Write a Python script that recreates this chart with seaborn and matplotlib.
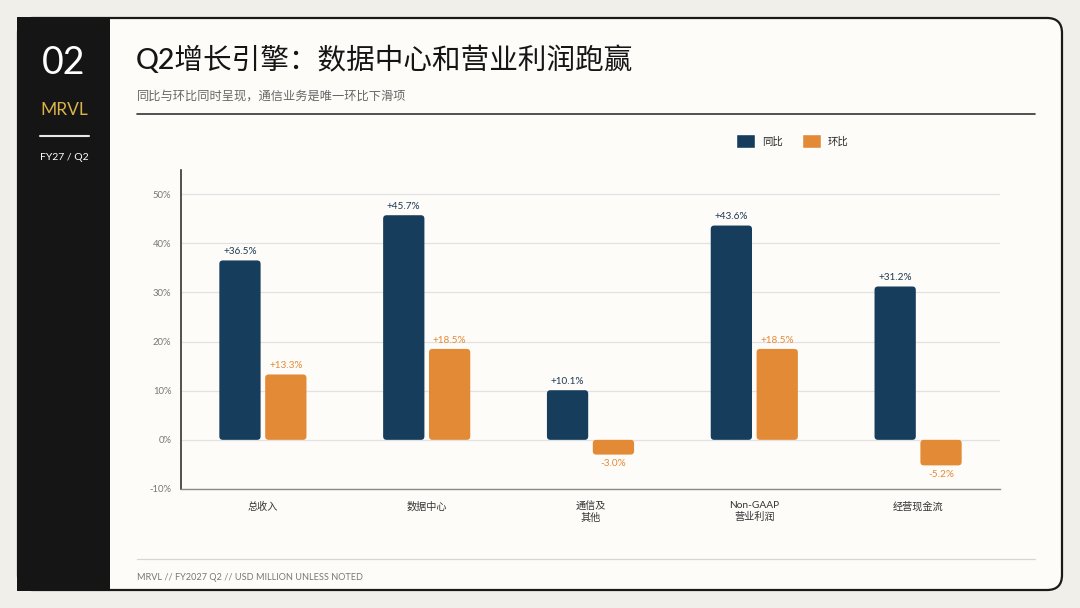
import numpy as np
import pandas as pd
import seaborn as sns
import matplotlib
matplotlib.use("Agg")
import matplotlib.pyplot as plt
from matplotlib.patches import FancyBboxPatch, Rectangle
from matplotlib.lines import Line2D

# data
categories = ["总收入", "数据中心", "通信及\n其他", "Non-GAAP\n营业利润", "经营现金流"]
yoy = [36.5, 45.7, 10.1, 43.6, 31.2]
qoq = [13.3, 18.5, -3.0, 18.5, -5.2]
series_names = ["同比", "环比"]
yticks = [-10, 0, 10, 20, 30, 40, 50]

NAVY = "#163d5c"
ORANGE = "#e38a36"
BG = "#f1efe9"
CARD = "#fdfcf9"

sns.set_theme(style="white")
plt.rcParams["font.family"] = ["Lato", "Noto Sans CJK SC", "DejaVu Sans"]

df = pd.DataFrame({
    "category": categories * 2,
    "metric": [series_names[0]] * len(categories) + [series_names[1]] * len(categories),
    "value": yoy + qoq,
})

W, H = 1080, 608
fig = plt.figure(figsize=(W / 100, H / 100), dpi=100)
fig.patch.set_facecolor(BG)

# background layer in pixel coords
bg = fig.add_axes([0, 0, 1, 1], zorder=-1)
bg.set_xlim(0, W)
bg.set_ylim(H, 0)
bg.axis("off")

bg.add_patch(FancyBboxPatch((18, 18), 1044, 572, boxstyle="round,pad=0,rounding_size=15",
                            facecolor=CARD, edgecolor="#1a1a1a", lw=1.6))
bg.add_patch(Rectangle((17.2, 17.2), 93, 573.6, facecolor="#151515", edgecolor="none"))

bg.text(64, 63, "02", color="white", fontsize=27, fontweight="normal", ha="center", va="center")
bg.text(64, 110, "MRVL", color="#d9b44a", fontsize=12.5, ha="center", va="center")
bg.add_line(Line2D([40, 89], [136, 136], color="#e8e8e8", lw=1.5))
bg.text(64, 158, "FY27 / Q2", color="white", fontsize=7.5, ha="center", va="center")

bg.text(136, 60, "Q2增长引擎：数据中心和营业利润跑赢", color="#151515", fontsize=20.6,
        fontweight="medium", ha="left", va="center")
bg.text(137, 96, "同比与环比同时呈现，通信业务是唯一环比下滑项", color="#666666",
        fontsize=8.8, ha="left", va="center")
bg.add_line(Line2D([137, 1035], [114, 114], color="#333333", lw=1.2))

bg.add_line(Line2D([137, 1035], [559, 559], color="#d6d6d6", lw=0.9))
bg.text(137, 577, "MRVL // FY2027 Q2 // USD MILLION UNLESS NOTED", color="#777777",
        fontsize=6.6, ha="left", va="center")

# chart axes
ax_l, ax_t, ax_r, ax_b = 181, 170, 1000, 489
ax = fig.add_axes([ax_l / W, (H - ax_b) / H, (ax_r - ax_l) / W, (ax_b - ax_t) / H])
ax.set_facecolor("none")

sns.barplot(data=df, x="category", y="value", hue="metric", palette=[NAVY, ORANGE],
            width=0.56, gap=0.1, ax=ax, saturation=1)

ymin, ymax = -10, 54.9
ax.set_ylim(ymin, ymax)
ax.set_xlim(-0.5, len(categories) - 0.5)
ax.set_yticks(yticks)
ax.set_yticklabels([f"{t}%" for t in yticks])
ax.set_xlabel("")
ax.set_ylabel("")
ax.tick_params(axis="y", length=0, pad=7, labelsize=6.8, labelcolor="#777777")
ax.tick_params(axis="x", length=0, pad=9, labelsize=7.3, labelcolor="#333333")
ax.yaxis.grid(True, color="#e2e2e2", lw=0.9)
ax.set_axisbelow(True)
for s in ["top", "right"]:
    ax.spines[s].set_visible(False)
ax.spines["left"].set_color("#333333")
ax.spines["left"].set_linewidth(1.2)
ax.spines["bottom"].set_color("#8a8a8a")
ax.spines["bottom"].set_linewidth(1.0)

# value labels
label_colors = ["#1f3a56", ORANGE]
for cont, col in zip(ax.containers, label_colors):
    vals = [b.get_height() for b in cont]
    ax.bar_label(cont, labels=[f"{v:+.1f}%" for v in vals], padding=3,
                 fontsize=7.2, color=col)

# legend
handles, labels = ax.get_legend_handles_labels()
if ax.get_legend() is not None:
    ax.get_legend().remove()
ax.legend(handles, labels, loc="center left", bbox_to_anchor=(0.678, 1.091), ncol=2,
          frameon=False, fontsize=7.5, handlelength=1.75, handleheight=1.6,
          handletextpad=0.7, columnspacing=1.9, borderpad=0, borderaxespad=0)

# swap bar rectangles for rounded ones
px_x = (ax_r - ax_l) / len(categories)
px_y = (ax_b - ax_t) / (ymax - ymin)
aspect = px_x / px_y
r = 3.5 / px_x
bars = [b for cont in ax.containers for b in cont]
for p in bars:
    x, y, w, h = p.get_x(), p.get_y(), p.get_width(), p.get_height()
    y0 = min(y, y + h)
    fb = FancyBboxPatch((x, y0), w, abs(h), boxstyle=f"round,pad=0,rounding_size={r}",
                        mutation_aspect=aspect, facecolor=p.get_facecolor(),
                        edgecolor="none", zorder=p.get_zorder())
    p.set_visible(False)
    ax.add_patch(fb)

fig.savefig("out.png", dpi=100, facecolor=BG)
